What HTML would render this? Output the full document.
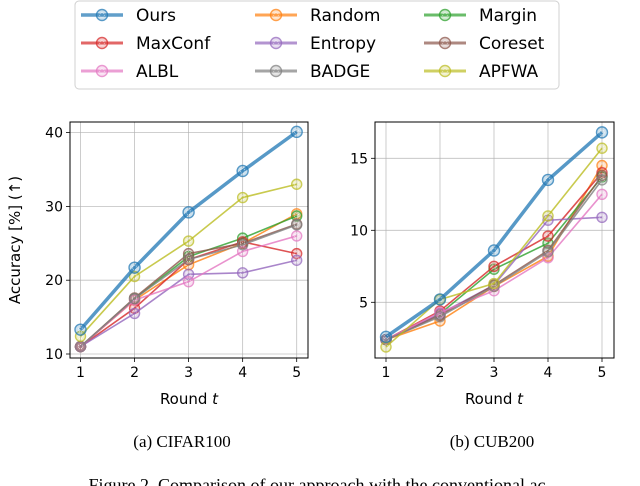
<!DOCTYPE html>
<html><head><meta charset="utf-8"><style>
body{margin:0;background:#fff;}
svg{display:block;font-family:"DejaVu Sans","Liberation Sans",sans-serif;}
</style></head><body>
<svg id="fig" width="640" height="486" viewBox="0 0 640 486">
<g id="legend"></g>
<g id="left"></g>
<g id="right"></g>
<text x="20" y="240" font-size="15" text-anchor="middle" transform="rotate(-90 20 240)">Accuracy [%] (↑)</text>
<text x="189" y="404" font-size="15" text-anchor="middle">Round <tspan font-style="italic">t</tspan></text>
<text x="494" y="404" font-size="15" text-anchor="middle">Round <tspan font-style="italic">t</tspan></text>
<text x="182" y="447" font-size="17" text-anchor="middle" font-family="Liberation Serif, serif">(a) CIFAR100</text>
<text x="492" y="447" font-size="17" text-anchor="middle" font-family="Liberation Serif, serif">(b) CUB200</text>
<text x="320" y="491" font-size="18" text-anchor="middle" font-family="Liberation Serif, serif">Figure 2.  Comparison of our approach with the conventional ac-</text>
</svg>
<script>
const names=["Ours","Random","Margin","MaxConf","Entropy","Coreset","ALBL","BADGE","APFWA"];
const colors=["#1f77b4","#ff7f0e","#2ca02c","#d62728","#9467bd","#8c564b","#e377c2","#7f7f7f","#bcbd22"];
const rounds=[1,2,3,4,5];
const cifarOurs=[13.3,21.7,29.2,34.8,40.1];
const cifarRandom=[11,17.3,22.1,25.0,29.0];
const cifarMargin=[11,17.5,23.2,25.7,28.7];
const cifarMaxConf=[11,16.2,22.8,25.2,23.6];
const cifarEntropy=[11,15.5,20.8,21.0,22.7];
const cifarCoreset=[11,17.6,23.6,25.0,27.6];
const cifarALBL=[11,17.3,19.8,23.9,26.0];
const cifarBADGE=[11,17.5,22.8,24.8,27.5];
const cifarAPFWA=[12.4,20.5,25.3,31.2,33.0];
const cubOurs=[2.6,5.2,8.6,13.5,16.8];
const cubRandom=[2.4,3.7,6.1,8.2,14.5];
const cubMargin=[2.4,4.2,7.3,9.1,13.7];
const cubMaxConf=[2.4,4.4,7.5,9.6,14.0];
const cubEntropy=[2.4,4.2,6.2,10.7,10.9];
const cubCoreset=[2.4,4.1,6.2,8.6,13.8];
const cubALBL=[2.4,4.3,5.8,8.1,12.5];
const cubBADGE=[2.4,4.0,6.1,8.5,13.5];
const cubAPFWA=[1.9,5.2,6.3,11.0,15.7];
const cifarTicks=[10,20,30,40];
const cubTicks=[5,10,15];
const cifarSeries=[cifarOurs,cifarRandom,cifarMargin,cifarMaxConf,cifarEntropy,cifarCoreset,cifarALBL,cifarBADGE,cifarAPFWA];
const cubSeries=[cubOurs,cubRandom,cubMargin,cubMaxConf,cubEntropy,cubCoreset,cubALBL,cubBADGE,cubAPFWA];
const NS="http://www.w3.org/2000/svg";
function mk(p,t,a){const e=document.createElementNS(NS,t);for(const k in a)e.setAttribute(k,a[k]);p.appendChild(e);return e;}
function marker(g,x,y,c,big){
  const m=mk(g,"g",{opacity:0.75});
  
  
  mk(m,"circle",{cx:x,cy:y,r:big?5.5:5,fill:c,"fill-opacity":0.3,stroke:c,"stroke-width":1.4});
  mk(m,"circle",{cx:x,cy:y,r:2.3,fill:"none",stroke:"#fff","stroke-width":0.6,"stroke-dasharray":"1 1"});
}
function chart(id,box,xs,ys,ticks,series){
  const g=document.getElementById(id);
  const X=v=>xs[0]+(v-1)*(xs[1]-xs[0])/4;
  const Y=v=>ys[0]+(v-ys[1])*ys[2];
  rounds.forEach(r=>{
    const l=mk(g,"line",{x1:X(r),x2:X(r),y1:box[1],y2:box[3],stroke:"#b0b0b0","stroke-width":0.8,opacity:0.8});
    
    
    mk(g,"line",{x1:X(r),x2:X(r),y1:box[3],y2:box[3]+4,stroke:"#000","stroke-width":0.8});
    const t=mk(g,"text",{x:X(r),y:box[3]+19,"font-size":14,"text-anchor":"middle"});t.textContent=r;
    
    
  });
  ticks.forEach(v=>{
    const l=mk(g,"line",{x1:box[0],x2:box[2],y1:Y(v),y2:Y(v),stroke:"#b0b0b0","stroke-width":0.8,opacity:0.8});
    
    
    mk(g,"line",{x1:box[0]-4,x2:box[0],y1:Y(v),y2:Y(v),stroke:"#000","stroke-width":0.8});
    const t=mk(g,"text",{x:box[0]-7,y:Y(v)+5,"font-size":14,"text-anchor":"end"});t.textContent=v;
    
    
  });
  const order=[1,2,3,4,5,6,7,8,0];
  order.forEach(i=>{
    const s=series[i];const big=i===0;
    const sg=mk(g,"g",{});
    
    
    mk(sg,"polyline",{points:s.map((v,j)=>X(rounds[j])+","+Y(v)).join(" "),fill:"none",stroke:colors[i],"stroke-width":big?3.5:1.6,opacity:big?0.75:0.8});
    s.forEach((v,j)=>marker(sg,X(rounds[j]),Y(v),colors[i],big));
  });
  const f=mk(g,"rect",{x:box[0],y:box[1],width:box[2]-box[0],height:box[3]-box[1],fill:"none",stroke:"#000","stroke-width":1});
  
  
}
chart("left",[70,122,308,358],[80.5,296.7],[354,10,-7.38],cifarTicks,cifarSeries);
chart("right",[375,122,614,358],[386,602],[374.3,0,-14.4],cubTicks,cubSeries);
const lg=document.getElementById("legend");
const r=mk(lg,"rect",{x:75,y:1,width:484,height:88,rx:4,fill:"#fff",stroke:"#d0d0d0","stroke-width":1});


const legOrder=["Ours","Random","Margin","MaxConf","Entropy","Coreset","ALBL","BADGE","APFWA"];
const colX=[81,255,424];const rowY=[15,43,71];
legOrder.forEach((n,k)=>{
  const i=names.indexOf(n);const x=colX[k%3],y=rowY[Math.floor(k/3)];
  const e=mk(lg,"g",{});
  
  
  mk(e,"line",{x1:x,x2:x+42,y1:y,y2:y,stroke:colors[i],"stroke-width":i===0?3.5:3,opacity:0.7});
  marker(e,x+21,y,colors[i],true);
  const t=mk(e,"text",{x:x+55,y:y+6,"font-size":17});t.textContent=n;
});
</script>
</body></html>
